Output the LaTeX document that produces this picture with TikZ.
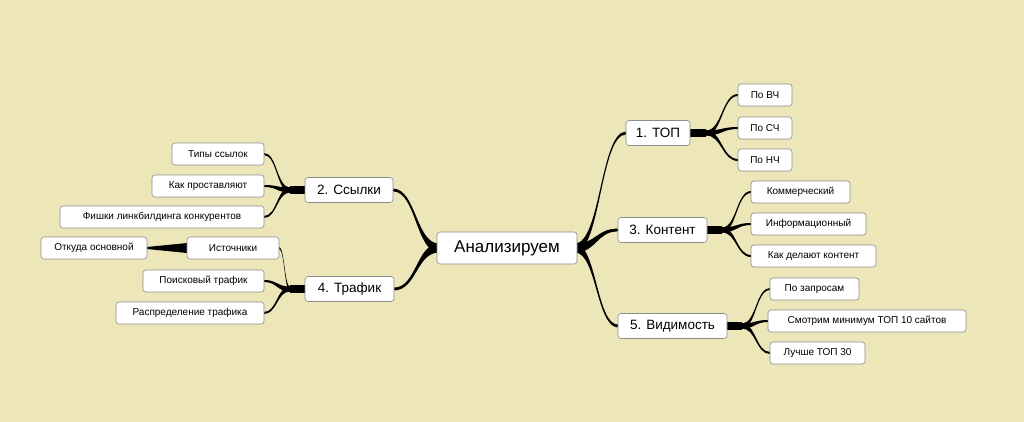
\documentclass[tikz,border=0pt]{standalone}
\usepackage{fontspec}
\setmainfont{Liberation Sans}
\usetikzlibrary{calc}
\definecolor{bg}{HTML}{EDE6B9}
\newcommand\br[4]{%
\fill let \p1=(#1),\p2=(#2),\p3=($(#1)!0.5!(#2)$) in
 (\x1,\y1+#3) .. controls (\x3,\y1+#3) and (\x3,\y2+#4) .. (\x2,\y2+#4)
 -- (\x2,\y2-#4) .. controls (\x3,\y2-#4) and (\x3,\y1-#3) .. (\x1,\y1-#3) -- cycle;}
\begin{document}
\begin{tikzpicture}[x=1pt,y=-1pt,
 box/.style={draw=black!45,fill=white,rounded corners=3pt,inner sep=0pt,line width=0.6pt},
 leaf/.style={box,font=\fontsize{10}{12}\selectfont,minimum height=22pt,inner xsep=6pt},
 topic/.style={box,font=\fontsize{13.5}{16}\selectfont,minimum height=25pt,inner xsep=6pt},
 root/.style={box,font=\fontsize{17}{20}\selectfont,minimum height=32pt,inner xsep=6pt}]
\fill[bg] (0,0) rectangle (1024,422);
\useasboundingbox (0,0) rectangle (1024,422);
\begin{scope}
\path (575,248) coordinate (re) (439,248) coordinate (le);
\path (626,133) coordinate (t1w) (618,230) coordinate (t3w) (618,326) coordinate (t5w);
\path (393,190) coordinate (t2e) (394,289) coordinate (t4e);
\br{re}{t1w}{4.5pt}{1.4pt}
\br{re}{t3w}{4.5pt}{1.4pt}
\br{re}{t5w}{4.5pt}{1.4pt}
\br{le}{t2e}{4.5pt}{1.4pt}
\br{le}{t4e}{4.5pt}{1.4pt}
\fill (690,129) rectangle (706,137);
\path (706,133) coordinate (a);
\path (738,95) coordinate (b1) (738,128) coordinate (b2) (738,160) coordinate (b3);
\br{a}{b1}{2.5pt}{1pt}\br{a}{b2}{2.5pt}{1pt}\br{a}{b3}{2.5pt}{1pt}
\fill (707,226) rectangle (722,234);
\path (722,230) coordinate (a);
\path (751,192) coordinate (b1) (751,224) coordinate (b2) (751,256) coordinate (b3);
\br{a}{b1}{2.5pt}{1pt}\br{a}{b2}{2.5pt}{1pt}\br{a}{b3}{2.5pt}{1pt}
\fill (727,322) rectangle (742,330);
\path (742,326) coordinate (a);
\path (770,289) coordinate (b1) (768,321) coordinate (b2) (770,353) coordinate (b3);
\br{a}{b1}{2.5pt}{1pt}\br{a}{b2}{2.5pt}{1pt}\br{a}{b3}{2.5pt}{1pt}
\fill (290,186) rectangle (305,194);
\path (290,190) coordinate (a);
\path (264,154) coordinate (b1) (264,186) coordinate (b2) (264,217) coordinate (b3);
\br{a}{b1}{2.5pt}{1pt}\br{a}{b2}{2.5pt}{1pt}\br{a}{b3}{2.5pt}{1pt}
\fill (290,285) rectangle (305,293);
\path (290,289) coordinate (a);
\path (279,248) coordinate (b1) (264,281) coordinate (b2) (264,313) coordinate (b3);
\br{a}{b1}{2.5pt}{1pt}\br{a}{b2}{2.5pt}{1pt}\br{a}{b3}{2.5pt}{1pt}
\fill (187,243) -- (147,247) -- (147,249) -- (187,253) -- cycle;
\end{scope}
\node[root,minimum width=140pt] (root) at (507,248) {Анализируем};
\node[topic,minimum width=64pt] (top) at (658,133) {1. ТОП};
\node[topic,minimum width=89pt] (kont) at (662.5,230) {3. Контент};
\node[topic,minimum width=109pt] (vid) at (672.5,326) {5. Видимость};
\node[topic,minimum width=88pt] (ssyl) at (349,190) {2. Ссылки};
\node[topic,minimum width=89pt] (traf) at (349.5,289) {4. Трафик};
\node[leaf,minimum width=54pt] (l1) at (765,95) {По ВЧ};
\node[leaf,minimum width=54pt] (l2) at (765,128) {По СЧ};
\node[leaf,minimum width=54pt] (l3) at (765,160) {По НЧ};
\node[leaf,minimum width=99pt] (l4) at (800.5,192) {Коммерческий};
\node[leaf,minimum width=115pt] (l5) at (808.5,224) {Информационный};
\node[leaf,minimum width=125pt] (l6) at (813.5,256) {Как делают контент};
\node[leaf,minimum width=89pt] (l7) at (814.5,289) {По запросам};
\node[leaf,minimum width=198pt] (l8) at (867,321) {Смотрим минимум ТОП 10 сайтов};
\node[leaf,minimum width=95pt] (l9) at (817.5,353) {Лучше ТОП 30};
\node[leaf,minimum width=92pt] (m1) at (218,154) {Типы ссылок};
\node[leaf,minimum width=112pt] (m2) at (208,186) {Как проставляют};
\node[leaf,minimum width=204pt] (m3) at (162,217) {Фишки линкбилдинга конкурентов};
\node[leaf,minimum width=92pt] (m4) at (233,248) {Источники};
\node[leaf,minimum width=106pt] (m5) at (94,248) {Откуда основной};
\node[leaf,minimum width=121pt] (m6) at (203.5,281) {Поисковый трафик};
\node[leaf,minimum width=148pt] (m7) at (190,313) {Распределение трафика};
\end{tikzpicture}
\end{document}
